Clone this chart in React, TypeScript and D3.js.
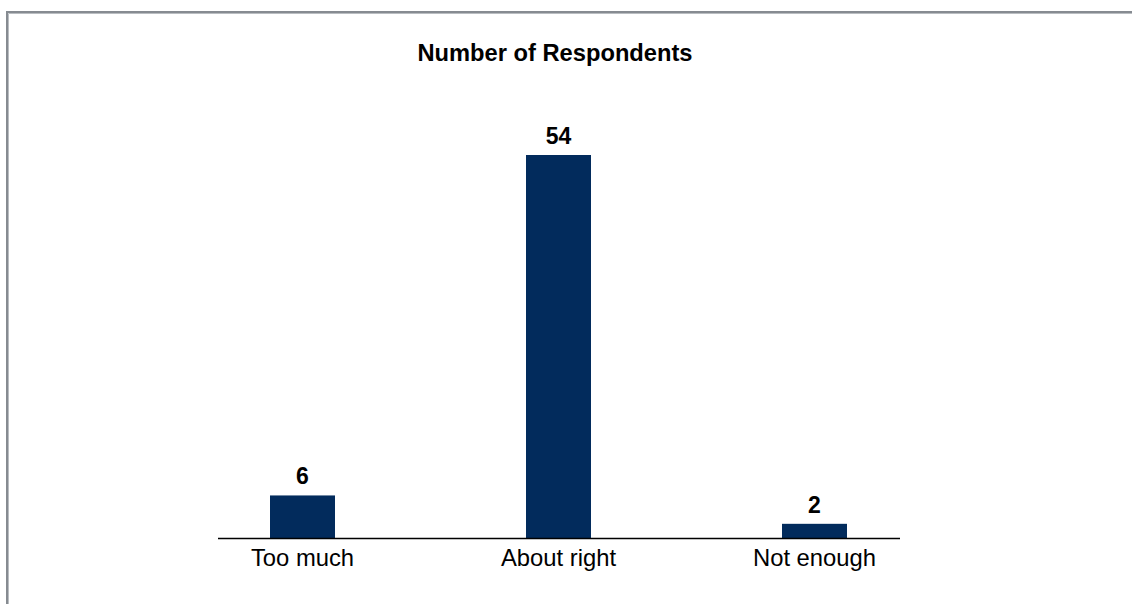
import React from "react";
import * as d3 from "d3";

const categories: string[] = ["Too much", "About right", "Not enough"];
const respondents: number[] = [6, 54, 2];
const chartTitle = "Number of Respondents";

const W = 1132;
const H = 604;
const baseY = 538;
const topY = 155;
const barWidth = 65;
const barColor = "#022b5c";
const font = "'Liberation Sans', Arial, Helvetica, sans-serif";

export default function App() {
  const x = d3.scalePoint<string>().domain(categories).range([302.5, 814.5]);
  const y = d3
    .scaleLinear()
    .domain([0, d3.max(respondents) as number])
    .range([baseY, topY]);

  return (
    <svg
      width={W}
      height={H}
      style={{ position: "absolute", left: 0, top: 0, background: "#fff" }}
      fontFamily={font}
    >
      {/* frame */}
      <path d={`M7,${H + 5} V12 H${W + 5}`} fill="none" stroke="#868b91" strokeWidth={2} />
      <path d={`M8.5,${H + 5} V13.5 H${W + 5}`} fill="none" stroke="#b9bdc1" strokeWidth={1} />

      <text x={555} y={61} textAnchor="middle" fontSize={23.7} fontWeight="bold" fill="#000">
        {chartTitle}
      </text>

      {categories.map((c, i) => {
        const cx = x(c) as number;
        const v = respondents[i];
        return (
          <g key={c}>
            <rect
              x={cx - barWidth / 2}
              y={y(v)}
              width={barWidth}
              height={baseY - y(v)}
              fill={barColor}
            />
            <text
              x={cx}
              y={y(v) - 11}
              textAnchor="middle"
              fontSize={23}
              fontWeight="bold"
              fill="#000"
            >
              {v}
            </text>
            <text x={cx} y={566} textAnchor="middle" fontSize={23.8} fill="#000">
              {c}
            </text>
          </g>
        );
      })}

      <line x1={218} x2={900} y1={baseY + 0.5} y2={baseY + 0.5} stroke="#000" strokeWidth={1.3} />
    </svg>
  );
}
